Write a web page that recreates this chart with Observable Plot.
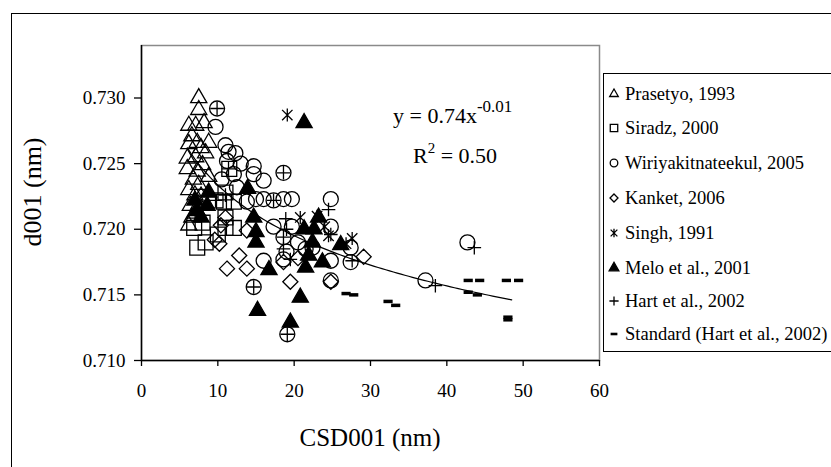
<!DOCTYPE html>
<html><head><meta charset="utf-8">
<script src="https://cdn.jsdelivr.net/npm/d3@7"></script>
<script src="https://cdn.jsdelivr.net/npm/@observablehq/plot@0.6"></script>
<style>
body{margin:0;background:#fff;}
#wrap{position:relative;width:831px;height:467px;overflow:hidden;background:#fff;color:#000;}
#wrap div, #wrap span, #wrap sup{font-family:"Liberation Serif","Tinos","Times New Roman","DejaVu Serif",serif !important;}
#outer{position:absolute;left:11px;top:13px;width:900px;height:600px;border:1.5px solid #000;box-sizing:border-box;}
#chart{position:absolute;left:0;top:0;}
#xtitle{position:absolute;left:220px;width:300px;top:424px;text-align:center;font-size:25px;white-space:nowrap;}
#ytitle{position:absolute;left:33px;top:192px;transform:translate(-50%,-50%) rotate(-90deg);font-size:26px;white-space:nowrap;}
#eq{position:absolute;left:393px;top:100px;font-size:22px;white-space:nowrap;}
#eq sup{font-size:17px;position:relative;top:-3px;}
#r2{position:absolute;left:413px;top:142px;font-size:22px;white-space:nowrap;}
#r2 sup{font-size:15px;position:relative;top:-2px;}
#legend{position:absolute;left:603px;top:73px;width:300px;height:279px;border:1.5px solid #000;box-sizing:border-box;background:#fff;}
.li{position:absolute;left:0;height:24px;display:flex;align-items:center;font-size:18.5px;white-space:nowrap;}
.li svg{margin-left:3px;margin-right:4px;}
</style></head>
<body>
<div id="wrap">
  <div id="outer"></div>
  <div id="chart"></div>
  <div id="ytitle">d001 (nm)</div>
  <div id="xtitle">CSD001 (nm)</div>
  <div id="eq">y = 0.74x<sup>-0.01</sup></div>
  <div id="r2">R<sup>2</sup> = 0.50</div>
  <div id="legend"></div>
</div>
<script>
// ---- axis ticks ----
const xTicks = [0, 10, 20, 30, 40, 50, 60];
const yTicks = [0.710, 0.715, 0.720, 0.725, 0.730];

// ---- series (CSD001 nm, d001 nm) ----
const prasetyo = [[7.5,0.7300],[7.5,0.7291],[6.2,0.7279],[7.1,0.7279],[8.2,0.7281],[6.2,0.7265],[7.3,0.7266],[8.8,0.7266],[6.0,0.7254],[7.1,0.7255],[8.4,0.7258],[6.0,0.7246],[7.3,0.7244],[8.8,0.7240],[6.2,0.7230],[7.5,0.7234],[6.8,0.7238],[6.4,0.7218],[7.5,0.7219],[6.6,0.7209],[6.2,0.7203],[7.0,0.7226],[8.0,0.7249],[7.8,0.7262],[6.6,0.7271],[7.8,0.7225],[7.0,0.7212]];
const siradz = [[7.3,0.7186],[8.4,0.7190],[6.9,0.7201],[11.0,0.7201],[12.1,0.7201],[10.8,0.7221],[12.1,0.7221],[11.0,0.7209],[9.7,0.7222],[11.0,0.7228],[11.5,0.7246],[8.0,0.7205],[10.0,0.7196]];
const wiriya = [[9.9,0.7292],[9.7,0.7278],[11.0,0.7264],[11.4,0.7259],[12.3,0.7258],[11.2,0.7252],[12.1,0.7242],[14.7,0.7248],[14.7,0.7242],[16.0,0.7237],[18.6,0.7243],[15.0,0.7223],[16.0,0.7223],[17.3,0.7222],[18.6,0.7223],[19.7,0.7223],[24.8,0.7223],[13.8,0.7221],[17.3,0.7202],[19.7,0.7202],[18.6,0.7194],[16.0,0.7176],[18.6,0.7177],[22.4,0.7186],[24.8,0.7176],[24.8,0.7202],[24.8,0.7161],[14.7,0.7156],[19.1,0.7120],[27.4,0.7175],[27.4,0.7186],[37.2,0.7161],[42.7,0.7190],[12.5,0.7232],[20.5,0.7190],[21.5,0.7185],[19.0,0.7183],[10.5,0.7238],[13.0,0.7250]];
const kanket = [[11.0,0.7209],[10.2,0.7189],[12.8,0.7180],[11.2,0.7170],[13.8,0.7170],[19.5,0.7160],[24.8,0.7160],[18.6,0.7175],[29.1,0.7179],[10.4,0.7203],[13.8,0.7199],[9.6,0.7192],[20.5,0.7178]];
const singh = [[19.1,0.7287],[20.8,0.7209],[23.0,0.7210],[24.5,0.7195],[27.6,0.7193],[26.8,0.7189],[24.0,0.7202]];
const melo = [[21.3,0.7281],[13.9,0.7231],[7.8,0.7209],[8.6,0.7218],[7.3,0.7214],[14.7,0.7209],[15.0,0.7198],[15.0,0.7190],[23.2,0.7209],[21.3,0.7200],[22.6,0.7200],[21.9,0.7180],[23.7,0.7175],[21.5,0.7171],[16.7,0.7169],[26.1,0.7188],[20.8,0.7148],[15.2,0.7138],[19.5,0.7129],[8.8,0.7228],[7.0,0.7222],[22.4,0.7190]];
const hart = [[9.9,0.7292],[18.6,0.7243],[17.3,0.7222],[18.9,0.7208],[18.6,0.7194],[18.6,0.7185],[19.5,0.7177],[14.7,0.7156],[19.1,0.7120],[24.5,0.7215],[27.6,0.7176],[38.5,0.7157],[43.6,0.7186],[11.0,0.7226],[11.4,0.7246],[9.7,0.7222],[19.0,0.7200],[24.8,0.7196]];
const standard = [[26.8,0.7151],[27.8,0.7150],[32.3,0.7145],[33.3,0.7142],[42.8,0.7161],[44.3,0.7161],[42.8,0.7152],[44.0,0.7150],[47.8,0.7161],[49.4,0.7161],[48.0,0.7131],[48.0,0.7133]];

const seriesNames = ["Prasetyo, 1993","Siradz, 2000","Wiriyakitnateekul, 2005","Kanket, 2006","Singh, 1991","Melo et al., 2001","Hart et al., 2002","Standard (Hart et al., 2002)"];

// power trendline fitted in the chart (y = a x^b), shown over the data x-range
const trendA = 0.7363, trendB = -0.0077, trendX = [6, 48.5];

// ---- custom Excel-like symbols ----
const starSym = {draw(ctx, size){const r=Math.sqrt(size/Math.PI);ctx.moveTo(-r*0.8,-r*0.8);ctx.lineTo(r*0.8,r*0.8);ctx.moveTo(r*0.8,-r*0.8);ctx.lineTo(-r*0.8,r*0.8);ctx.moveTo(0,-r);ctx.lineTo(0,r);}};
const plusSym = {draw(ctx, size){const r=Math.sqrt(size/Math.PI);ctx.moveTo(-r,0);ctx.lineTo(r,0);ctx.moveTo(0,-r);ctx.lineTo(0,r);}};
const dashSym = {draw(ctx, size){const r=Math.sqrt(size/Math.PI);ctx.rect(-r,-r*0.38,2*r,r*0.76);}};

const style = [
  {data: prasetyo, symbol: d3.symbolTriangle, r: 6.0, fill: "none", stroke: "#000", lr: 3.2},
  {data: siradz, symbol: d3.symbolSquare, r: 8.4, fill: "none", stroke: "#000", lr: 4.2},
  {data: wiriya, symbol: d3.symbolCircle, r: 7.5, fill: "none", stroke: "#000", lr: 3.8},
  {data: kanket, symbol: d3.symbolDiamond2, r: 6.8, fill: "none", stroke: "#000", lr: 3.6},
  {data: singh, symbol: starSym, r: 6.5, fill: "none", stroke: "#000", lr: 4.2},
  {data: melo, symbol: d3.symbolTriangle, r: 6.0, fill: "#000", stroke: "#000", lr: 3.6},
  {data: hart, symbol: plusSym, r: 6.8, fill: "none", stroke: "#000", lr: 4.6},
  {data: standard, symbol: dashSym, r: 4.6, fill: "#000", stroke: "none", lr: 3.4}
];

const trend = d3.range(trendX[0], trendX[1] + 0.001, 0.5).map(x => [x, trendA * Math.pow(x, trendB)]);

const serif = "'Liberation Serif','Tinos','Times New Roman','DejaVu Serif',serif";
const chart = Plot.plot({
  width: 831, height: 467,
  marginLeft: 141, marginRight: 232, marginTop: 45, marginBottom: 107,
  x: {domain: [0, 60]},
  y: {domain: [0.710, 0.734]},
  style: {fontFamily: serif, fontSize: "19px", background: "transparent", color: "#000"},
  marks: [
    Plot.frame({stroke: "#8a8a8a", strokeWidth: 1.5}),
    Plot.axisX({ticks: xTicks, tickSize: 6, tickPadding: 17, tickFormat: d => String(d), label: null, fontSize: 19, strokeWidth: 1.3}),
    Plot.axisY({ticks: yTicks, tickSize: 7, tickPadding: 9, tickFormat: d3.format(".3f"), label: null, fontSize: 19, strokeWidth: 1.3}),
    ...style.map(s => Plot.dot(s.data, {x: d => d[0], y: d => d[1], symbol: s.symbol, r: s.r, fill: s.fill, stroke: s.stroke, strokeWidth: 1.3})),
    Plot.line(trend, {x: d => d[0], y: d => d[1], stroke: "#000", strokeWidth: 1.2}),
    Plot.ruleX([0], {stroke: "#000", strokeWidth: 1.5}),
    Plot.ruleY([0.710], {stroke: "#000", strokeWidth: 1.5})
  ]
});
chart.querySelectorAll("text").forEach(t => t.style.fontFamily = serif);
document.getElementById("chart").appendChild(chart);

// legend
const legend = document.getElementById("legend");
const legendTops = [20, 54, 89, 124, 159, 194, 227, 260];
seriesNames.forEach((name, i) => {
  const s = style[i];
  const row = document.createElement("div");
  row.className = "li";
  row.style.top = (legendTops[i] - 12) + "px";
  const size = Math.PI * s.lr * s.lr;
  const path = d3.symbol().type(s.symbol).size(size)();
  row.innerHTML = `<svg width="14" height="14" viewBox="-7 -7 14 14"><path d="${path}" fill="${s.fill}" stroke="${s.stroke}" stroke-width="1.3"/></svg><span>${name}</span>`;
  legend.appendChild(row);
});
</script>
</body></html>
